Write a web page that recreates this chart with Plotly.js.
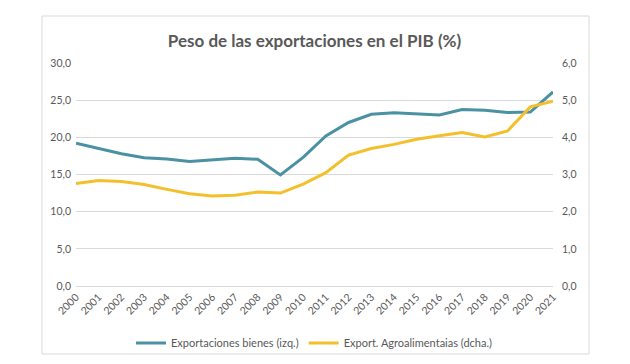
<!DOCTYPE html>
<html>
<head>
<meta charset="utf-8">
<script src="https://cdn.plot.ly/plotly-3.0.1.min.js"></script>
<style>html,body{margin:0;padding:0;background:#fff;}#chart{width:630px;height:364px;}</style>
</head>
<body>
<div id="chart"></div>
<script>
const years = [2000,2001,2002,2003,2004,2005,2006,2007,2008,2009,2010,2011,2012,2013,2014,2015,2016,2017,2018,2019,2020,2021];
const exportBienes = [19.2,18.5,17.8,17.25,17.1,16.75,17.0,17.2,17.05,14.95,17.3,20.2,22.0,23.1,23.3,23.2,23.0,23.75,23.65,23.35,23.4,26.1];
const exportAgro = [2.76,2.84,2.81,2.73,2.6,2.48,2.42,2.44,2.53,2.5,2.74,3.05,3.52,3.70,3.81,3.95,4.04,4.13,4.01,4.17,4.82,4.97];
const nameBienes = 'Exportaciones bienes (izq.)';
const nameAgro = 'Export. Agroalimentaias (dcha.)';
const titleText = 'Peso de las exportaciones en el PIB (%)';

const fontFam = 'Lato, "Open Sans", sans-serif';
const grey = '#595959';

const traces = [
  {x: years, y: exportBienes, name: nameBienes, type: 'scatter', mode: 'lines',
   line: {color: '#4a91a3', width: 3}, yaxis: 'y'},
  {x: years, y: exportAgro, name: nameAgro, type: 'scatter', mode: 'lines',
   line: {color: '#f3c02c', width: 3}, yaxis: 'y2'}
];

const L = 76, R = 553, T = 63, B = 286;
const W = R - L, H = B - T;
const px = v => (v - L) / W;
const py = v => (B - v) / H;

const layout = {
  width: 630, height: 364,
  margin: {l: L, r: 630 - R, t: T, b: 364 - B, pad: 0, autoexpand: false},
  paper_bgcolor: '#fff', plot_bgcolor: '#fff',
  separators: ',.',
  font: {family: fontFam, color: grey, size: 11},
  title: {text: '<b>' + titleText + '</b>', font: {family: fontFam, size: 17, color: grey},
          x: 0.5, xanchor: 'center', xref: 'paper', y: 1 - 41/364, yanchor: 'middle', yref: 'container'},
  showlegend: true,
  legend: {orientation: 'h', x: 0.5, xanchor: 'center', y: py(343), yanchor: 'middle',
           font: {family: fontFam, size: 11, color: grey}, bgcolor: 'rgba(0,0,0,0)'},
  xaxis: {range: [2000, 2021], tickmode: 'array', tickvals: years, ticktext: years.map(String),
          tickangle: -45, showgrid: false, zeroline: false, showline: true, linecolor: '#d9d9d9',
          linewidth: 1, ticks: '', automargin: false, tickfont: {size: 10.5, color: grey}, fixedrange: true},
  yaxis: {range: [0, 30], dtick: 5, tick0: 0, tickformat: '.1f', showgrid: true, gridcolor: '#d9d9d9',
          zeroline: false, showline: false, ticks: '', ticklabelstandoff: 4, automargin: false,
          tickfont: {size: 10.5, color: grey}, fixedrange: true},
  yaxis2: {range: [0, 6], dtick: 1, tick0: 0, tickformat: '.1f', overlaying: 'y', side: 'right',
           showgrid: false, zeroline: false, showline: false, ticks: '', ticklabelstandoff: 8, automargin: false,
           tickfont: {size: 10.5, color: grey}, fixedrange: true},
  shapes: [{type: 'rect', xref: 'paper', yref: 'paper', x0: px(42), x1: px(589), y0: py(354), y1: py(16),
            line: {color: '#d9d9d9', width: 1}, fillcolor: 'rgba(0,0,0,0)', layer: 'below'}]
};

Plotly.newPlot('chart', traces, layout, {displayModeBar: false, staticPlot: true});
</script>
</body>
</html>
